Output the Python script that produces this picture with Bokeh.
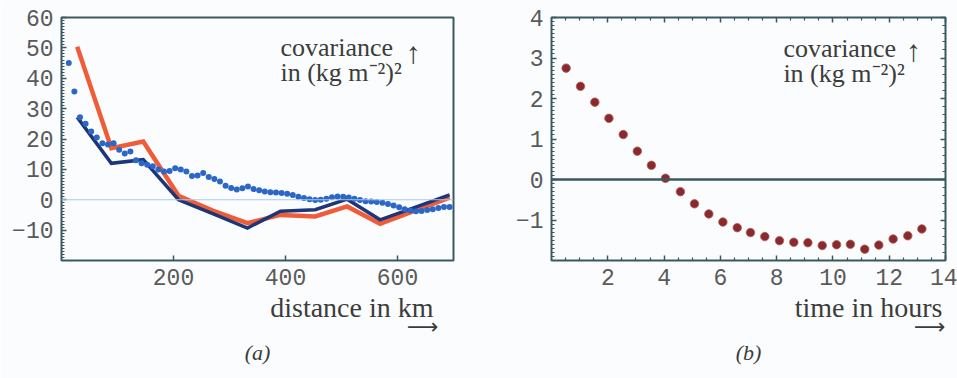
from bokeh.plotting import figure
from bokeh.models import Range1d, FixedTicker, LinearAxis, Span, Label, Title
from bokeh.layouts import row
from bokeh.embed import file_html
from bokeh.resources import INLINE

# ---------------- data: panel (a) ----------------
dist_nodes = [28, 89, 146, 209, 270, 332, 391, 453, 510, 569, 630, 693]
red_cov = [50.4, 17.0, 19.2, 1.3, -3.6, -7.7, -5.0, -5.5, -2.2, -7.9, -3.7, 0.7]
blue_cov = [27.2, 12.0, 13.2, 0.0, -4.6, -9.3, -3.8, -3.3, 0.2, -6.6, -2.6, 1.6]

dot_dist = [13, 23, 33, 43, 53, 63, 73, 83, 93, 103, 113, 123, 133, 143, 153, 163,
            173, 183, 193, 203, 213, 223, 233, 243, 253, 263, 273, 283, 293, 303,
            313, 323, 333, 343, 353, 363, 373, 383, 393, 403, 413, 423, 433, 443,
            453, 463, 473, 483, 493, 503, 513, 523, 533, 543, 553, 563, 573, 583,
            593, 603, 613, 623, 633, 643, 653, 663, 673, 683, 693]
dot_cov = [45.0, 35.6, 27.2, 25.0, 22.5, 20.5, 18.6, 18.2, 18.6, 16.5, 15.2, 15.9,
           13.0, 12.0, 11.5, 11.0, 10.0, 9.3, 9.5, 10.4, 10.0, 9.3, 7.8, 8.0, 8.8,
           7.5, 6.8, 6.0, 4.6, 3.9, 3.4, 3.8, 4.4, 3.5, 3.1, 2.7, 2.5, 2.4, 2.2,
           2.0, 1.6, 1.0, 0.6, 0.2, -0.1, 0.0, 0.3, 0.8, 1.1, 1.0, 0.7, 0.3, -0.1,
           -0.5, -0.6, -0.7, -1.0, -1.4, -1.9, -2.5, -3.1, -3.5, -3.8, -3.7, -3.4,
           -3.1, -2.7, -2.4, -2.4]

a_xticks = [200, 400, 600]
a_yticks = [-10, 0, 10, 20, 30, 40, 50, 60]

# ---------------- data: panel (b) ----------------
hours = [0.52, 1.03, 1.54, 2.04, 2.55, 3.05, 3.55, 4.05, 4.58, 5.08, 5.59, 6.09,
         6.60, 7.07, 7.58, 8.10, 8.61, 9.11, 9.62, 10.13, 10.62, 11.13, 11.63,
         12.14, 12.66, 13.16]
time_cov = [2.75, 2.30, 1.91, 1.51, 1.11, 0.70, 0.35, 0.03, -0.30, -0.60, -0.85,
            -1.05, -1.19, -1.31, -1.41, -1.51, -1.55, -1.56, -1.63, -1.61, -1.60,
            -1.72, -1.62, -1.47, -1.39, -1.22]

b_xticks = [2, 4, 6, 8, 10, 12, 14]
b_yticks = [-1, 0, 1, 2, 3, 4]

FRAME = "#3a5862"
TICK_FONT = "Liberation Mono"
TICK_COLOR = "#5a5a5a"
SERIF = "Liberation Serif"
TEXT_COLOR = "#3c3c3c"
BG = "#fbfcfd"


def minus(v):
    return str(v).replace("-", "\u2212")


def style_axis(ax, ticks, minor, labels=True):
    ax.ticker = FixedTicker(ticks=ticks, minor_ticks=minor)
    ax.axis_line_color = None
    ax.major_tick_in = 5
    ax.major_tick_out = 0
    ax.minor_tick_in = 3
    ax.minor_tick_out = 0
    ax.major_tick_line_color = FRAME
    ax.minor_tick_line_color = FRAME
    ax.major_tick_line_width = 1.5
    ax.minor_tick_line_width = 1.2
    if labels:
        ax.major_label_text_font = TICK_FONT
        ax.major_label_text_font_size = "23px"
        ax.major_label_text_color = TICK_COLOR
        ax.major_label_standoff = 8
        ax.major_label_overrides = {t: minus(t) for t in ticks if t < 0}
    else:
        ax.major_label_text_color = None
        ax.major_label_text_font_size = "1px"
        ax.major_label_standoff = 0


def label(p, x, y, text, size="26px", align="left", baseline="alphabetic",
          font=SERIF, style="normal"):
    p.add_layout(Label(x=x, y=y, text=text, text_font=font, text_font_size=size,
                       text_color=TEXT_COLOR, text_align=align,
                       text_baseline=baseline, text_font_style=style))


def below_text(p, text, align, offset, size, standoff, font=SERIF, style="normal"):
    p.add_layout(Title(text=text, align=align, offset=offset, text_font=font,
                       text_font_size=size, text_color=TEXT_COLOR,
                       text_font_style=style, standoff=standoff), "below")


# ---------------- panel (a) ----------------
p1 = figure(width=490, height=378, output_backend="svg", toolbar_location=None,
            x_range=Range1d(0, 700), y_range=Range1d(-20, 60),
            min_border_left=61, min_border_right=37, min_border_top=17,
            min_border_bottom=118, background_fill_color=BG,
            border_fill_color=BG, outline_line_color=FRAME, outline_line_width=2)
p1.grid.visible = False
style_axis(p1.xaxis[0], a_xticks, [])
style_axis(p1.yaxis[0], a_yticks, [v for v in range(-20, 61) if v % 10 != 0])

p1.add_layout(Span(location=0, dimension="width", line_color="#a9c7ee", line_width=1))
p1.line(dist_nodes, red_cov, line_color="#f05c38", line_width=4.5, line_join="miter")
p1.line(dist_nodes, blue_cov, line_color="#1d3678", line_width=3.5, line_join="miter")
p1.scatter(dot_dist, dot_cov, size=6, fill_color="#2b67c6", line_color=None)

label(p1, 391, 50.0, "covariance")
label(p1, 391, 41.8, "in (kg m\u207b\u00b2)\u00b2")
label(p1, 628, 48.5, "\u2191", align="center", baseline="middle", size="30px")
below_text(p1, "distance in km", "right", 20, "28px", 4)
below_text(p1, "\u27f6", "right", 15, "22px", -29, font="DejaVu Sans")
below_text(p1, "(a)", "center", 0, "22px", 27, style="italic")

# ---------------- panel (b) ----------------
p2 = figure(width=467, height=378, output_backend="svg", toolbar_location=None,
            x_range=Range1d(0, 14), y_range=Range1d(-2, 4),
            min_border_left=61, min_border_right=12, min_border_top=17,
            min_border_bottom=118, background_fill_color=BG,
            border_fill_color=BG, outline_line_color=FRAME, outline_line_width=2)
p2.grid.visible = False
half_steps = [i * 0.5 for i in range(0, 29) if i % 4 != 0]
tenth_steps = [round(-2 + i * 0.1, 2) for i in range(0, 61) if i % 10 != 0]
fifth_steps = [round(-2 + i * 0.2, 2) for i in range(0, 31) if i % 5 != 0]
style_axis(p2.xaxis[0], b_xticks, half_steps)
style_axis(p2.yaxis[0], b_yticks, tenth_steps)
top_ax = LinearAxis()
style_axis(top_ax, b_xticks, half_steps, labels=False)
p2.add_layout(top_ax, "above")
right_ax = LinearAxis()
style_axis(right_ax, b_yticks, fifth_steps, labels=False)
p2.add_layout(right_ax, "right")

p2.add_layout(Span(location=0, dimension="width", line_color=FRAME, line_width=2.5))
p2.scatter(hours, time_cov, size=8.5, fill_color="#8a2a2c", line_color="#b06060",
           line_width=0.8)

label(p2, 8.24, 3.235, "covariance")
label(p2, 8.24, 2.617, "in (kg m\u207b\u00b2)\u00b2")
label(p2, 12.86, 3.19, "\u2191", align="center", baseline="middle", size="30px")
below_text(p2, "time in hours", "right", 3, "28px", 4)
below_text(p2, "\u27f6", "right", 0, "22px", -29, font="DejaVu Sans")
below_text(p2, "(b)", "center", 0, "22px", 27, style="italic")

layout = row(p1, p2)
open("out.html", "w").write(file_html(layout, INLINE))
